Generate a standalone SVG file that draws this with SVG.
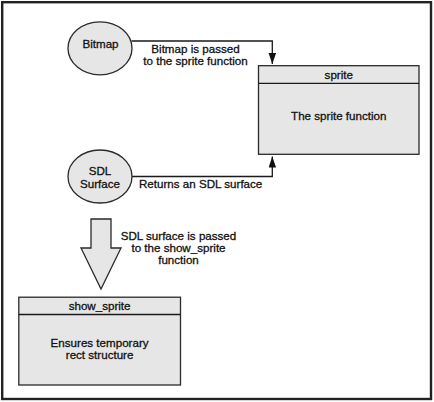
<svg xmlns="http://www.w3.org/2000/svg" width="434" height="402" viewBox="0 0 434 402">
  <style>
    .shape { fill: #e6e6e6; stroke: #2a2a2a; stroke-width: 1.3; }
    .line { fill: none; stroke: #1a1a1a; stroke-width: 1.3; }
    .t { font-family: "Liberation Sans", Arial, sans-serif; font-size: 11.6px; fill: #111; stroke: #111; stroke-width: 0.3; text-anchor: middle; }
    .ts { font-family: "Liberation Sans", Arial, sans-serif; font-size: 11.6px; fill: #111; stroke: #111; stroke-width: 0.3; text-anchor: start; }
  </style>
  <defs>
    <marker id="arrow" markerUnits="userSpaceOnUse" markerWidth="12" markerHeight="8" refX="11" refY="3.75" orient="auto">
      <path d="M0,0 L11,3.75 L0,7.5 z" fill="#111"/>
    </marker>
  </defs>
  <rect x="0" y="0" width="434" height="402" fill="#ffffff"/>
  <rect id="frame" x="2.2" y="2.2" width="428.8" height="396.8" fill="none" stroke="#222" stroke-width="2.4"/>

  <g id="connectors">
    <path class="line" d="M131.5,41 H272.3 V64" marker-end="url(#arrow)"/>
    <path class="line" d="M131.5,176.5 H272.3 V156.5" marker-end="url(#arrow)"/>
    <text class="t" x="195.5" y="53">Bitmap is passed</text>
    <text class="t" x="195.5" y="64.8">to the sprite function</text>
    <text class="ts" x="139" y="187.5">Returns an SDL surface</text>
    <polygon id="bigArrow" class="shape" points="91,219 111,219 111,248 121,248 101,289 81,248 91,248"/>
    <text class="t" x="178.5" y="240">SDL surface is passed</text>
    <text class="t" x="178.5" y="251.8">to the show_sprite</text>
    <text class="t" x="178.5" y="263.6">function</text>
  </g>

  <g id="bitmap">
    <ellipse class="shape" cx="100" cy="48.3" rx="32" ry="26.5"/>
    <text class="t" x="100.5" y="48">Bitmap</text>
  </g>

  <g id="sdl-surface">
    <ellipse class="shape" cx="100" cy="176.5" rx="32" ry="26.5"/>
    <text class="t" x="100" y="175">SDL</text>
    <text class="t" x="100" y="187.5">Surface</text>
  </g>

  <g id="sprite">
    <rect class="shape" x="258.5" y="65.7" width="160.5" height="88.6"/>
    <line class="line" x1="258.5" y1="83.3" x2="419" y2="83.3"/>
    <text class="t" x="338.8" y="78.5">sprite</text>
    <text class="t" x="338.8" y="119.5">The sprite function</text>
  </g>

  <g id="show_sprite">
    <rect class="shape" x="18.8" y="297.2" width="161.7" height="87.8"/>
    <line class="line" x1="18.8" y1="314.5" x2="180.5" y2="314.5"/>
    <text class="t" x="99.6" y="310.3">show_sprite</text>
    <text class="t" x="99.6" y="346.5">Ensures temporary</text>
    <text class="t" x="99.6" y="358.5">rect structure</text>
  </g>
</svg>
